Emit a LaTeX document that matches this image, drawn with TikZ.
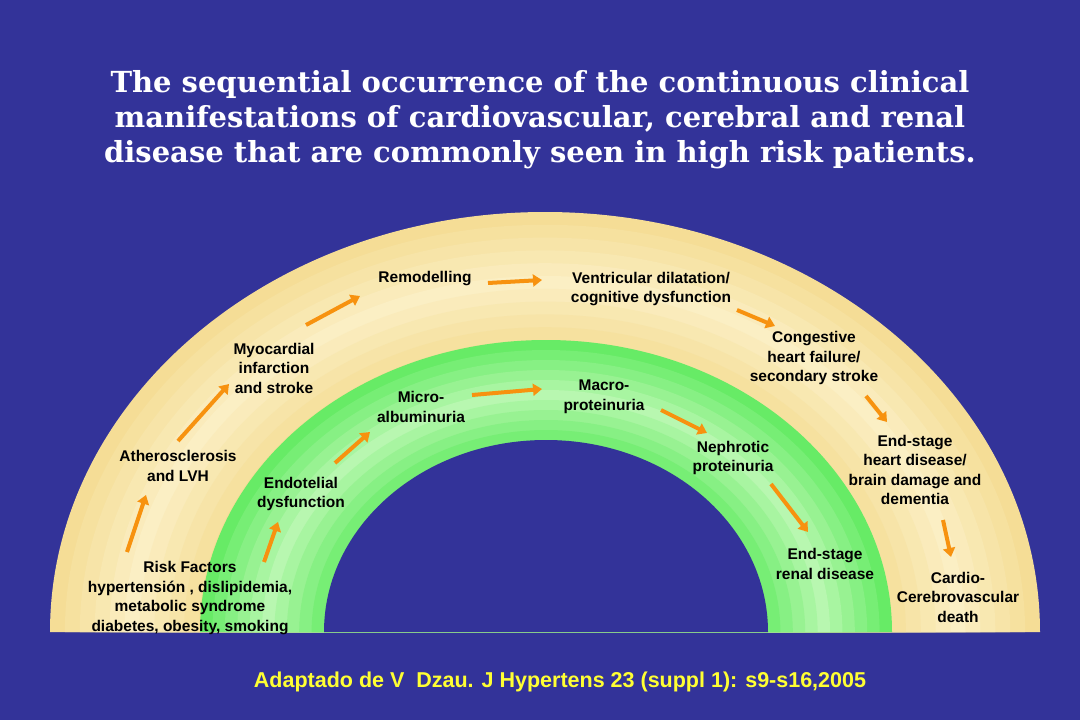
\documentclass[tikz,border=0pt]{standalone}
\usepackage{fontspec}
\setmainfont{Liberation Sans}
\newfontfamily\titlefont{DejaVu Serif}
\usetikzlibrary{arrows.meta}
\definecolor{slidebg}{HTML}{333399}
\definecolor{bandyel}{HTML}{F3D98A}
\definecolor{bandyellt}{HTML}{FBEFC4}
\definecolor{bandgrn}{HTML}{5EEA5E}
\definecolor{bandgrnlt}{HTML}{B8F7B0}
\definecolor{arroworg}{HTML}{F7920F}
\definecolor{citeyel}{HTML}{FFFF33}

\begin{document}
\begin{tikzpicture}[x=1pt, y=-1pt,
  every node/.style={font=\fontsize{15.5}{19.5}\selectfont\bfseries, align=center, text=black, inner sep=0pt},
  flow/.style={arroworg, line width=4pt, -{Triangle[length=9pt, width=12pt]}}]

  % ---- Background ----
  \fill[slidebg] (0,0) rectangle (1080,720);
  \useasboundingbox (0,0) rectangle (1080,720);

  % ---- Bands (yellow outer, green inner) ----
  \foreach \f in {0,...,10}{
    \pgfmathsetmacro{\mix}{100-abs(\f-5)*16}
    \fill[bandyellt!\mix!bandyel]
      ({545-(495-\f*14.9)},632) arc[start angle=180, end angle=360, x radius={495-\f*14.9}, y radius={420-\f*12.8}] -- cycle;
  }
  \foreach \f in {0,...,10}{
    \pgfmathsetmacro{\mix}{100-abs(\f-5)*18}
    \fill[bandgrnlt!\mix!bandgrn]
      ({546-(346-\f*12.4)},632) arc[start angle=180, end angle=360, x radius={346-\f*12.4}, y radius={292-\f*10}] -- cycle;
  }
  \fill[slidebg] (324,632) arc[start angle=180, end angle=360, x radius=222, y radius=192] -- cycle;

  % ---- Title ----
  \node[text=white, font=\titlefont\fontsize{29}{35}\selectfont\bfseries] (title) at (540,120)
    {The sequential occurrence of the continuous clinical\\
     manifestations of cardiovascular, cerebral and renal\\
     disease that are commonly seen in high risk patients.};

  % ---- Outer band labels ----
  \node (risk) at (190,598) {Risk Factors\\hypertensión , dislipidemia,\\metabolic syndrome\\diabetes, obesity, smoking};
  \node (athero) at (178,466) {Atherosclerosis\\and LVH};
  \node (myo) at (274,368) {Myocardial\\infarction\\and stroke};
  \node (remod) at (425,279) {Remodelling};
  \node (ventr) at (651,289) {Ventricular dilatation/\\cognitive dysfunction};
  \node (chf) at (814,358) {Congestive\\heart failure/\\secondary stroke};
  \node (eshd) at (915,470) {End-stage\\heart disease/\\brain damage and\\dementia};
  \node (death) at (958,597) {Cardio-\\Cerebrovascular\\death};

  % ---- Inner band labels ----
  \node (endo) at (301,494) {Endotelial\\dysfunction};
  \node (micro) at (421,407) {Micro-\\albuminuria};
  \node (macro) at (604,397) {Macro-\\proteinuria};
  \node (neph) at (733,458) {Nephrotic\\proteinuria};
  \node (esrd) at (825,564) {End-stage\\renal disease};

  % ---- Citation ----
  \node[text=citeyel, font=\fontsize{21.5}{25}\selectfont\bfseries] (cite) at (560,682)
    {Adaptado de V\ \ Dzau. J Hypertens 23 (suppl 1): s9-s16,2005};

  % ---- Arrow end points ----
  \coordinate (a1s) at (127,552); \coordinate (a1e) at (146,495);
  \coordinate (a2s) at (178,441); \coordinate (a2e) at (229,384);
  \coordinate (a3s) at (306,325); \coordinate (a3e) at (360,296);
  \coordinate (a4s) at (488,283); \coordinate (a4e) at (542,280);
  \coordinate (a5s) at (737,310); \coordinate (a5e) at (775,326);
  \coordinate (a6s) at (866,396); \coordinate (a6e) at (887,422);
  \coordinate (a7s) at (943,520); \coordinate (a7e) at (951,557);
  \coordinate (b1s) at (264,562); \coordinate (b1e) at (278,522);
  \coordinate (b2s) at (335,463); \coordinate (b2e) at (370,432);
  \coordinate (b3s) at (472,395); \coordinate (b3e) at (542,389);
  \coordinate (b4s) at (661,410); \coordinate (b4e) at (707,433);
  \coordinate (b5s) at (771,484); \coordinate (b5e) at (808,532);

  % ---- Arrows ----
  \foreach \a in {a1,a2,a3,a4,a5,a6,a7,b1,b2,b3,b4,b5}
    \draw[flow] (\a s) -- (\a e);

\end{tikzpicture}
\end{document}
